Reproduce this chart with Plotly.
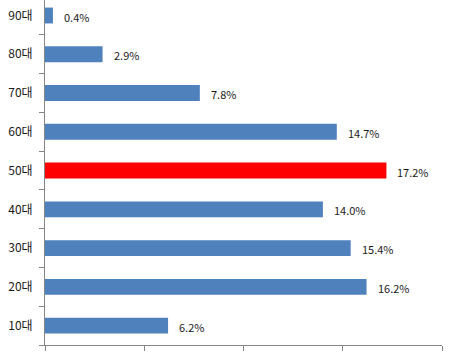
import plotly.graph_objects as go

categories = ["10대", "20대", "30대", "40대", "50대", "60대", "70대", "80대", "90대"]
values = [6.2, 16.2, 15.4, 14.0, 17.2, 14.7, 7.8, 2.9, 0.4]
highlight = "50대"

colors = ["#FF0000" if c == highlight else "#4F81BD" for c in categories]
font_family = "Noto Sans CJK KR, Noto Sans, sans-serif"

fig = go.Figure(go.Bar(
    x=values, y=categories, orientation="h",
    marker=dict(color=colors, line=dict(width=0)),
    cliponaxis=False,
))

for c, v in zip(categories, values):
    fig.add_annotation(
        x=v, y=c, text=f"{v:.1f}%", showarrow=False,
        xanchor="left", xshift=9, yshift=-1,
        font=dict(family=font_family, size=11, color="#1a1a1a"),
    )

fig.update_layout(
    width=455, height=355,
    margin=dict(l=45, r=13, t=0, b=10, autoexpand=False),
    paper_bgcolor="white", plot_bgcolor="white",
    bargap=0.59,
    showlegend=False,
    font=dict(family=font_family, size=12, color="#1a1a1a"),
)
fig.update_xaxes(
    range=[0, 20], dtick=5, showgrid=False, zeroline=False,
    showline=True, linecolor="#868686", linewidth=1,
    ticks="outside", ticklen=5, tickcolor="#868686",
    showticklabels=False, automargin=False,
)
fig.update_yaxes(
    type="category", categoryorder="array", categoryarray=categories,
    range=[-0.5, 8.4], showgrid=False, zeroline=False,
    showline=True, linecolor="#868686", linewidth=1,
    ticks="outside", ticklen=5, tickcolor="#868686", tickson="boundaries",
    tickfont=dict(size=12, color="#1a1a1a"), ticklabelstandoff=9,
    automargin=False,
)

fig.write_html(
    "out.html",
    config={"displayModeBar": False},
    post_script="document.body.style.margin='0';",
)
